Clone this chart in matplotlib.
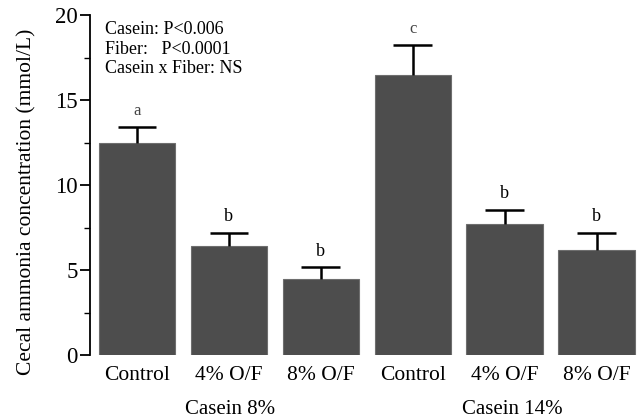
import matplotlib
matplotlib.use("Agg")
import matplotlib.pyplot as plt
from matplotlib.ticker import MultipleLocator

plt.rcParams['font.family'] = ['Liberation Serif', 'DejaVu Serif']

categories = ["Control", "4% O/F", "8% O/F", "Control", "4% O/F", "8% O/F"]
means = [12.5, 6.4, 4.5, 16.5, 7.7, 6.2]
sem = [0.9, 0.8, 0.65, 1.75, 0.85, 1.0]
letters = ["a", "b", "b", "c", "b", "b"]
groups = ["Casein 8%", "Casein 14%"]
stats_text = ["Casein: P<0.006", "Fiber:   P<0.0001", "Casein x Fiber: NS"]

fig = plt.figure(figsize=(6.4, 4.2), dpi=100)
ax = fig.add_axes([90/640, 1-355/420, 1-90/640, (355-15)/420])

x = list(range(len(categories)))
ax.bar(x, means, width=0.83, color='#4d4d4d', edgecolor='#6e6e6e', linewidth=0.8, zorder=2)
tops = [m + s for m, s in zip(means, sem)]
cap = 0.21
ax.vlines(x, means, tops, colors='black', linewidth=1.8, zorder=3)
ax.hlines(tops, [xi - cap for xi in x], [xi + cap for xi in x], colors='black', linewidth=1.8, zorder=3)
for xi, t, l in zip(x, tops, letters):
    ax.text(xi, t + 0.95, l, ha='center', va='center', fontsize=13 if l == 'b' else 12,
            color='#444444' if l in 'ac' else 'black')

ax.set_xlim(-0.511, 5.473)
ax.set_ylim(0, 20)
ax.yaxis.set_major_locator(MultipleLocator(5))
ax.yaxis.set_minor_locator(MultipleLocator(2.5))
ax.tick_params(axis='y', which='major', length=7, width=1.3, labelsize=16.5, pad=2)
ax.tick_params(axis='y', which='minor', length=4, width=1.0)
ax.set_xticks(x)
ax.set_xticklabels(categories, fontsize=15.5)
ax.tick_params(axis='x', length=0, pad=8)
for sp in ['top', 'right', 'bottom']:
    ax.spines[sp].set_visible(False)
ax.spines['left'].set_linewidth(1.3)
ax.set_ylabel("Cecal ammonia concentration (mmol/L)", fontsize=15.5)
ax.yaxis.set_label_coords(-(90 - 36) / 550, (355 - 202) / 340)

for i, t in enumerate(stats_text):
    ax.text(-0.35, 19.15 - i * 1.15, t, ha='left', va='center', fontsize=13)

fig.text(230/640, 1-410/420, groups[0], ha='center', va='center', fontsize=15)
fig.text(512/640, 1-410/420, groups[1], ha='center', va='center', fontsize=15)

fig.savefig("out.png", dpi=100)
